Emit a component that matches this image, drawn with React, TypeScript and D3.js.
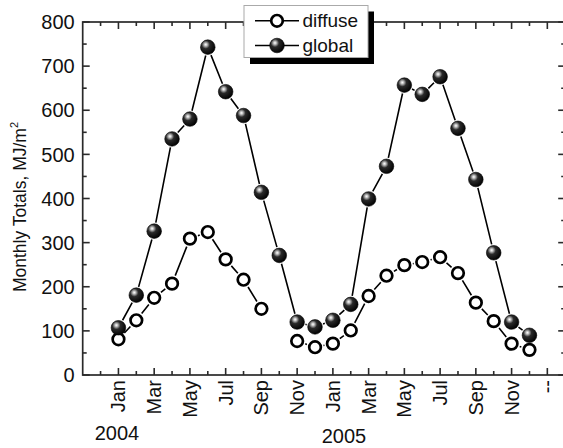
import React from "react";
import * as d3 from "d3";

// Month index 0 = Jan 2004
const months: number[] = d3.range(0, 24);
const globalVals: (number | null)[] = [
  107, 181, 326, 535, 580, 743, 642, 588, 414, 271, 120, 109,
  124, 160, 399, 473, 657, 636, 676, 559, 443, 277, 120, 90,
];
const diffuseVals: (number | null)[] = [
  81, 124, 175, 207, 309, 324, 262, 216, 150, null, 77, 63,
  71, 101, 179, 225, 249, 256, 267, 231, 164, 122, 71, 57,
];
const monthLabels: { i: number; label: string }[] = [
  { i: 0, label: "Jan" }, { i: 2, label: "Mar" }, { i: 4, label: "May" },
  { i: 6, label: "Jul" }, { i: 8, label: "Sep" }, { i: 10, label: "Nov" },
  { i: 12, label: "Jan" }, { i: 14, label: "Mar" }, { i: 16, label: "May" },
  { i: 18, label: "Jul" }, { i: 20, label: "Sep" }, { i: 22, label: "Nov" },
  { i: 24, label: "--" },
];
const yTicks: number[] = [0, 100, 200, 300, 400, 500, 600, 700, 800];
const yearLabels: { label: string; x: number; y: number }[] = [
  { label: "2004", x: 117, y: 440 },
  { label: "2005", x: 344, y: 443 },
];
const seriesNames = ["diffuse", "global"];

const W = 563;
const H = 448;
const FONT = "'Liberation Sans', Arial, Helvetica, sans-serif";

export default function App() {
  const x = d3.scaleLinear().domain([-2, 25]).range([82.7, 565.2]);
  const y = d3.scaleLinear().domain([0, 800]).range([375, 22]);
  const left = x(-2), right = x(25), top = y(800), bottom = y(0);
  const axisColor = "#2a2a2a";

  const rFilled = 7.3;
  const rOpen = 5.8;
  const gap = 8.6;

  const segs = (vals: (number | null)[]) => {
    const out: string[] = [];
    for (let k = 0; k < vals.length - 1; k++) {
      const a = vals[k], b = vals[k + 1];
      if (a == null || b == null) continue;
      const x1 = x(months[k]), y1 = y(a), x2 = x(months[k + 1]), y2 = y(b);
      const dx = x2 - x1, dy = y2 - y1;
      const len = Math.hypot(dx, dy);
      if (len <= 2 * gap) continue;
      const ux = dx / len, uy = dy / len;
      out.push(`M${x1 + ux * gap},${y1 + uy * gap}L${x2 - ux * gap},${y2 - uy * gap}`);
    }
    return out.join("");
  };

  const monthTicks = d3.range(-1, 25);
  const yMinor = d3.range(50, 800, 100);

  return (
    <svg
      width={W}
      height={H}
      viewBox={`0 0 ${W} ${H}`}
      style={{ position: "absolute", left: 0, top: 0, background: "#fff" }}
      fontFamily={FONT}
    >
      <defs>
        <radialGradient id="ball" cx="0.36" cy="0.34" r="0.7" fx="0.36" fy="0.32">
          <stop offset="0" stopColor="#ffffff" />
          <stop offset="0.13" stopColor="#c8c8c8" />
          <stop offset="0.4" stopColor="#2a2a2a" />
          <stop offset="1" stopColor="#000000" />
        </radialGradient>
      </defs>
      <rect x={0} y={0} width={W} height={H} fill="#fff" />

      {/* frame */}
      <rect x={left} y={top} width={right - left} height={bottom - top} fill="none" stroke={axisColor} strokeWidth={1.7} />

      {/* x ticks bottom & top */}
      {monthTicks.map((m) => {
        const major = m % 2 === 0;
        const len = major ? 7 : 4;
        return (
          <g key={"xt" + m}>
            <line x1={x(m)} x2={x(m)} y1={bottom} y2={bottom - len} stroke={axisColor} strokeWidth={1.6} />
            <line x1={x(m)} x2={x(m)} y1={top} y2={top + len} stroke={axisColor} strokeWidth={1.6} />
          </g>
        );
      })}

      {/* y ticks left & right */}
      {yTicks.map((v) => (
        <g key={"yt" + v}>
          <line x1={left} x2={left + 7} y1={y(v)} y2={y(v)} stroke={axisColor} strokeWidth={1.6} />
          <line x1={right} x2={right - 7} y1={y(v)} y2={y(v)} stroke={axisColor} strokeWidth={1.6} />
          <text x={left - 8} y={y(v)} dy="0.36em" textAnchor="end" fontSize={20} fill="#111">
            {v}
          </text>
        </g>
      ))}
      {yMinor.map((v) => (
        <g key={"ym" + v}>
          <line x1={left} x2={left + 4} y1={y(v)} y2={y(v)} stroke={axisColor} strokeWidth={1.6} />
          <line x1={right} x2={right - 4} y1={y(v)} y2={y(v)} stroke={axisColor} strokeWidth={1.6} />
        </g>
      ))}

      {/* month labels */}
      {monthLabels.map((d) => (
        <text
          key={"ml" + d.i}
          transform={`translate(${x(d.i) + 7},${bottom + 5}) rotate(-90)`}
          textAnchor="end"
          fontSize={20}
          fill="#111"
        >
          {d.label}
        </text>
      ))}

      {yearLabels.map((d) => (
        <text key={d.label} x={d.x} y={d.y} textAnchor="middle" fontSize={20} fill="#111">
          {d.label}
        </text>
      ))}

      {/* y axis title */}
      <text transform={`translate(26,207) rotate(-90)`} textAnchor="middle" fontSize={17.5} fill="#111">
        Monthly Totals, MJ/m
        <tspan dy={-8} fontSize={11}>2</tspan>
      </text>

      {/* lines */}
      <path d={segs(globalVals)} stroke="#000" strokeWidth={1.6} fill="none" />
      <path d={segs(diffuseVals)} stroke="#000" strokeWidth={1.6} fill="none" />

      {/* markers */}
      {diffuseVals.map((v, k) =>
        v == null ? null : (
          <circle key={"d" + k} cx={x(months[k])} cy={y(v)} r={rOpen} fill="#fff" stroke="#000" strokeWidth={2.7} />
        )
      )}
      {globalVals.map((v, k) =>
        v == null ? null : (
          <circle key={"g" + k} cx={x(months[k])} cy={y(v)} r={rFilled} fill="url(#ball)" stroke="#000" strokeWidth={0.6} />
        )
      )}

      {/* legend */}
      <g>
        <rect x={250} y={11.5} width={124} height={52.5} fill="#000" />
        <rect x={244} y={5.5} width={124} height={52} fill="#fff" stroke="#aaa" strokeWidth={1} />
        {seriesNames.map((name, idx) => {
          const cy = idx === 0 ? 20.8 : 45.5;
          return (
            <g key={name}>
              <line x1={255} x2={299} y1={cy} y2={cy} stroke="#000" strokeWidth={1.6} />
              {idx === 0 ? (
                <circle cx={277} cy={cy} r={rOpen} fill="#fff" stroke="#000" strokeWidth={2.7} />
              ) : (
                <circle cx={277} cy={cy} r={rFilled} fill="url(#ball)" stroke="#000" strokeWidth={0.6} />
              )}
              <text x={302.5} y={cy} dy="0.33em" fontSize={19} fill="#111">
                {name}
              </text>
            </g>
          );
        })}
      </g>
    </svg>
  );
}
